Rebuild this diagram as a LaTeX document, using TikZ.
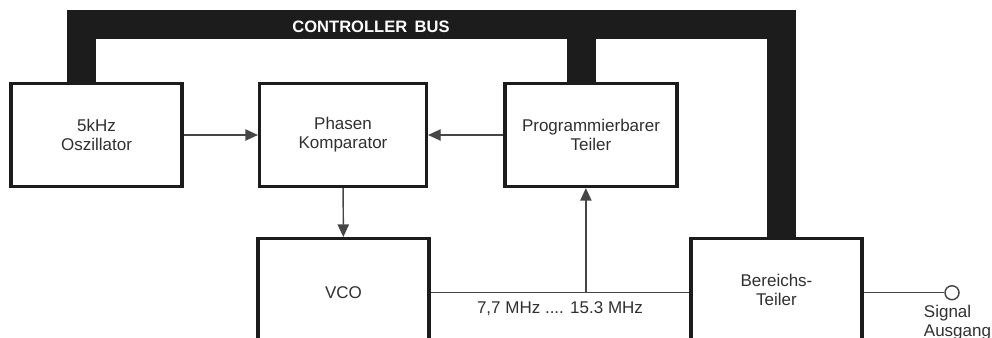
\documentclass[tikz,border=0pt]{standalone}
\usepackage{fontspec}
\setmainfont{Liberation Sans}
\usetikzlibrary{arrows.meta, positioning, calc}
\definecolor{ink}{HTML}{303030}
\definecolor{busink}{HTML}{1C1C1C}
\definecolor{wire}{HTML}{464646}
\tikzset{
  font=\fontsize{12.75pt}{14.25pt}\selectfont,
  >={Triangle[length=9.5pt, width=8.5pt]},
  %
  box/.style={
    draw=busink, line width=2.6pt, fill=white, align=center, text=ink,
    minimum width=128pt, minimum height=77pt, inner sep=0pt,
  },
  bus/.style={draw=busink, line width=21.75pt, line join=miter},
  %
  wire/.style={draw=wire, line width=1.1pt},
  flow/.style={wire, ->},
  port/.style={circle, draw=wire, line width=1.1pt, fill=white,
               minimum size=10.5pt, inner sep=0pt},
  %
  lbl/.style={text=ink, inner sep=2pt},
  buslbl/.style={font=\fontsize{12.4pt}{14pt}\selectfont\bfseries, text=white},
}

\begin{document}
\begin{tikzpicture}[x=0.75pt, y=-0.75pt]

\clip (0,0) rectangle (992,338);

% =========================================================================
% blocks
\node[box] (osz) at (96.5,135) {5kHz\\Oszillator};
\node[box, minimum width=125pt] (phase) at (343,135) {Phasen\\Komparator};
\node[box, minimum width=129pt] (prog) at (591,135) {Programmierbarer\\Teiler};
\node[box, minimum height=81pt] (vco) at (343.5,292.75) {VCO};
\node[box, minimum height=76.5pt] (ber) at (776.5,289.75) {Bereichs-\\Teiler};

% =========================================================================
% controller bus
\coordinate (bustop) at (0,25);
\coordinate (tapL) at ([xshift=-11.25pt]osz.north);
\coordinate (tapM) at ([xshift=-7.1pt]prog.north);
\coordinate (tapR) at ([xshift=3.75pt]ber.north);
\draw[bus] (tapL) |- (tapR |- bustop) -- (tapR);
\draw[bus] (tapM) -- (tapM |- bustop);
\node[buslbl] (buslabel) at (371,27) {CONTROLLER\hspace{0.45em}BUS};

% =========================================================================
% signal path
\draw[flow] (osz) -- (phase);
\draw[flow] (prog) -- (phase);
\draw[flow] (phase) -- (vco);
\draw[wire] (vco.east) -- node[lbl, below=4pt] (band) {7,7 MHz .... 15.3 MHz}
  (vco.east -| ber.west);
\coordinate (split) at ($(vco.east)!0.6!(vco.east -| ber.west)$);
\draw[flow] (split) -- (split |- prog.south);

\node[port] (out) at (952,292.75) {};
\draw[wire] (out -| ber.east) -- (out);
\node[lbl, anchor=north west, align=left] (outlbl) at (921,302) {Signal\\Ausgang};

\end{tikzpicture}
\end{document}
